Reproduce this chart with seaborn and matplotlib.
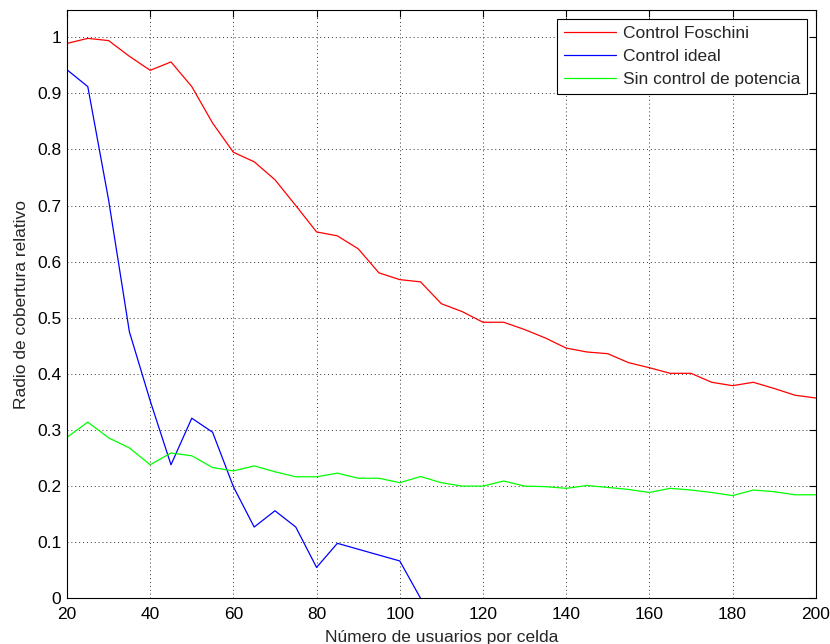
import numpy as np
import pandas as pd
import matplotlib
matplotlib.use("Agg")
import matplotlib.pyplot as plt
import seaborn as sns

usuarios = list(range(20, 201, 5))
foschini = [0.989, 0.998, 0.994, 0.966, 0.941, 0.956, 0.912, 0.847, 0.795, 0.778,
            0.746, 0.700, 0.653, 0.646, 0.623, 0.580, 0.568, 0.564, 0.525, 0.511,
            0.492, 0.492, 0.479, 0.464, 0.446, 0.439, 0.436, 0.420, 0.411, 0.401,
            0.401, 0.385, 0.379, 0.385, 0.374, 0.362, 0.357]
usuarios_ideal = list(range(20, 106, 5))
ideal = [0.942, 0.912, 0.710, 0.475, 0.352, 0.238, 0.321, 0.296, 0.199, 0.127,
         0.156, 0.127, 0.055, 0.098, 0.0875, 0.077, 0.0666, 0.0]
sin_control = [0.287, 0.314, 0.286, 0.268, 0.238, 0.259, 0.254, 0.233, 0.227, 0.236,
               0.2255, 0.2166, 0.2166, 0.223, 0.214, 0.214, 0.206, 0.217, 0.206, 0.200,
               0.200, 0.209, 0.200, 0.199, 0.196, 0.201, 0.1976, 0.194, 0.1886, 0.196,
               0.193, 0.1886, 0.183, 0.193, 0.190, 0.1845, 0.1845]
series_names = ["Control Foschini", "Control ideal", "Sin control de potencia"]
colors = ["#ff0000", "#0000ff", "#00ff00"]

df = pd.concat([
    pd.DataFrame({"x": usuarios, "y": foschini, "serie": series_names[0]}),
    pd.DataFrame({"x": usuarios_ideal, "y": ideal, "serie": series_names[1]}),
    pd.DataFrame({"x": usuarios, "y": sin_control, "serie": series_names[2]}),
], ignore_index=True)

sns.set_style("white")
plt.rcParams['font.family'] = ['Liberation Sans', 'DejaVu Sans']

fig = plt.figure(figsize=(8.3, 6.44), dpi=100)
ax = fig.add_axes([67/830, 1 - 598.3/644, (815.7 - 67)/830, (598.3 - 10.3)/644])

sns.lineplot(data=df, x="x", y="y", hue="serie", hue_order=series_names,
             palette=colors, linewidth=0.9, ax=ax, legend=True)

ax.set_xlim(20, 200)
ax.set_ylim(0, 1.048)
ax.set_xticks(np.arange(20, 201, 20))
ax.set_yticks(np.arange(0, 1.01, 0.1))
ax.set_yticklabels(["0", "0.1", "0.2", "0.3", "0.4", "0.5", "0.6", "0.7", "0.8", "0.9", "1"])
ax.tick_params(direction="in", length=5, width=0.8, top=True, right=True,
               labelsize=12.5, colors="black")
ax.tick_params(axis="x", pad=6)
ax.tick_params(axis="y", pad=4)
ax.grid(True, linestyle=(0, (1, 3)), color="#333333", linewidth=0.7)
for s in ax.spines.values():
    s.set_visible(True)
    s.set_color("black")
    s.set_linewidth(0.8)

ax.set_xlabel("Número de usuarios por celda", fontsize=12.5, labelpad=6)
ax.set_ylabel("Radio de cobertura relativo", fontsize=12.5, labelpad=6)

leg = ax.legend(loc="upper right", fontsize=12.5, frameon=True, fancybox=False,
                framealpha=1, edgecolor="black", borderaxespad=0.5,
                handlelength=3.0, handletextpad=0.4, labelspacing=0.45,
                borderpad=0.4)
leg.get_frame().set_linewidth(0.8)

fig.savefig("out.png", dpi=100)
